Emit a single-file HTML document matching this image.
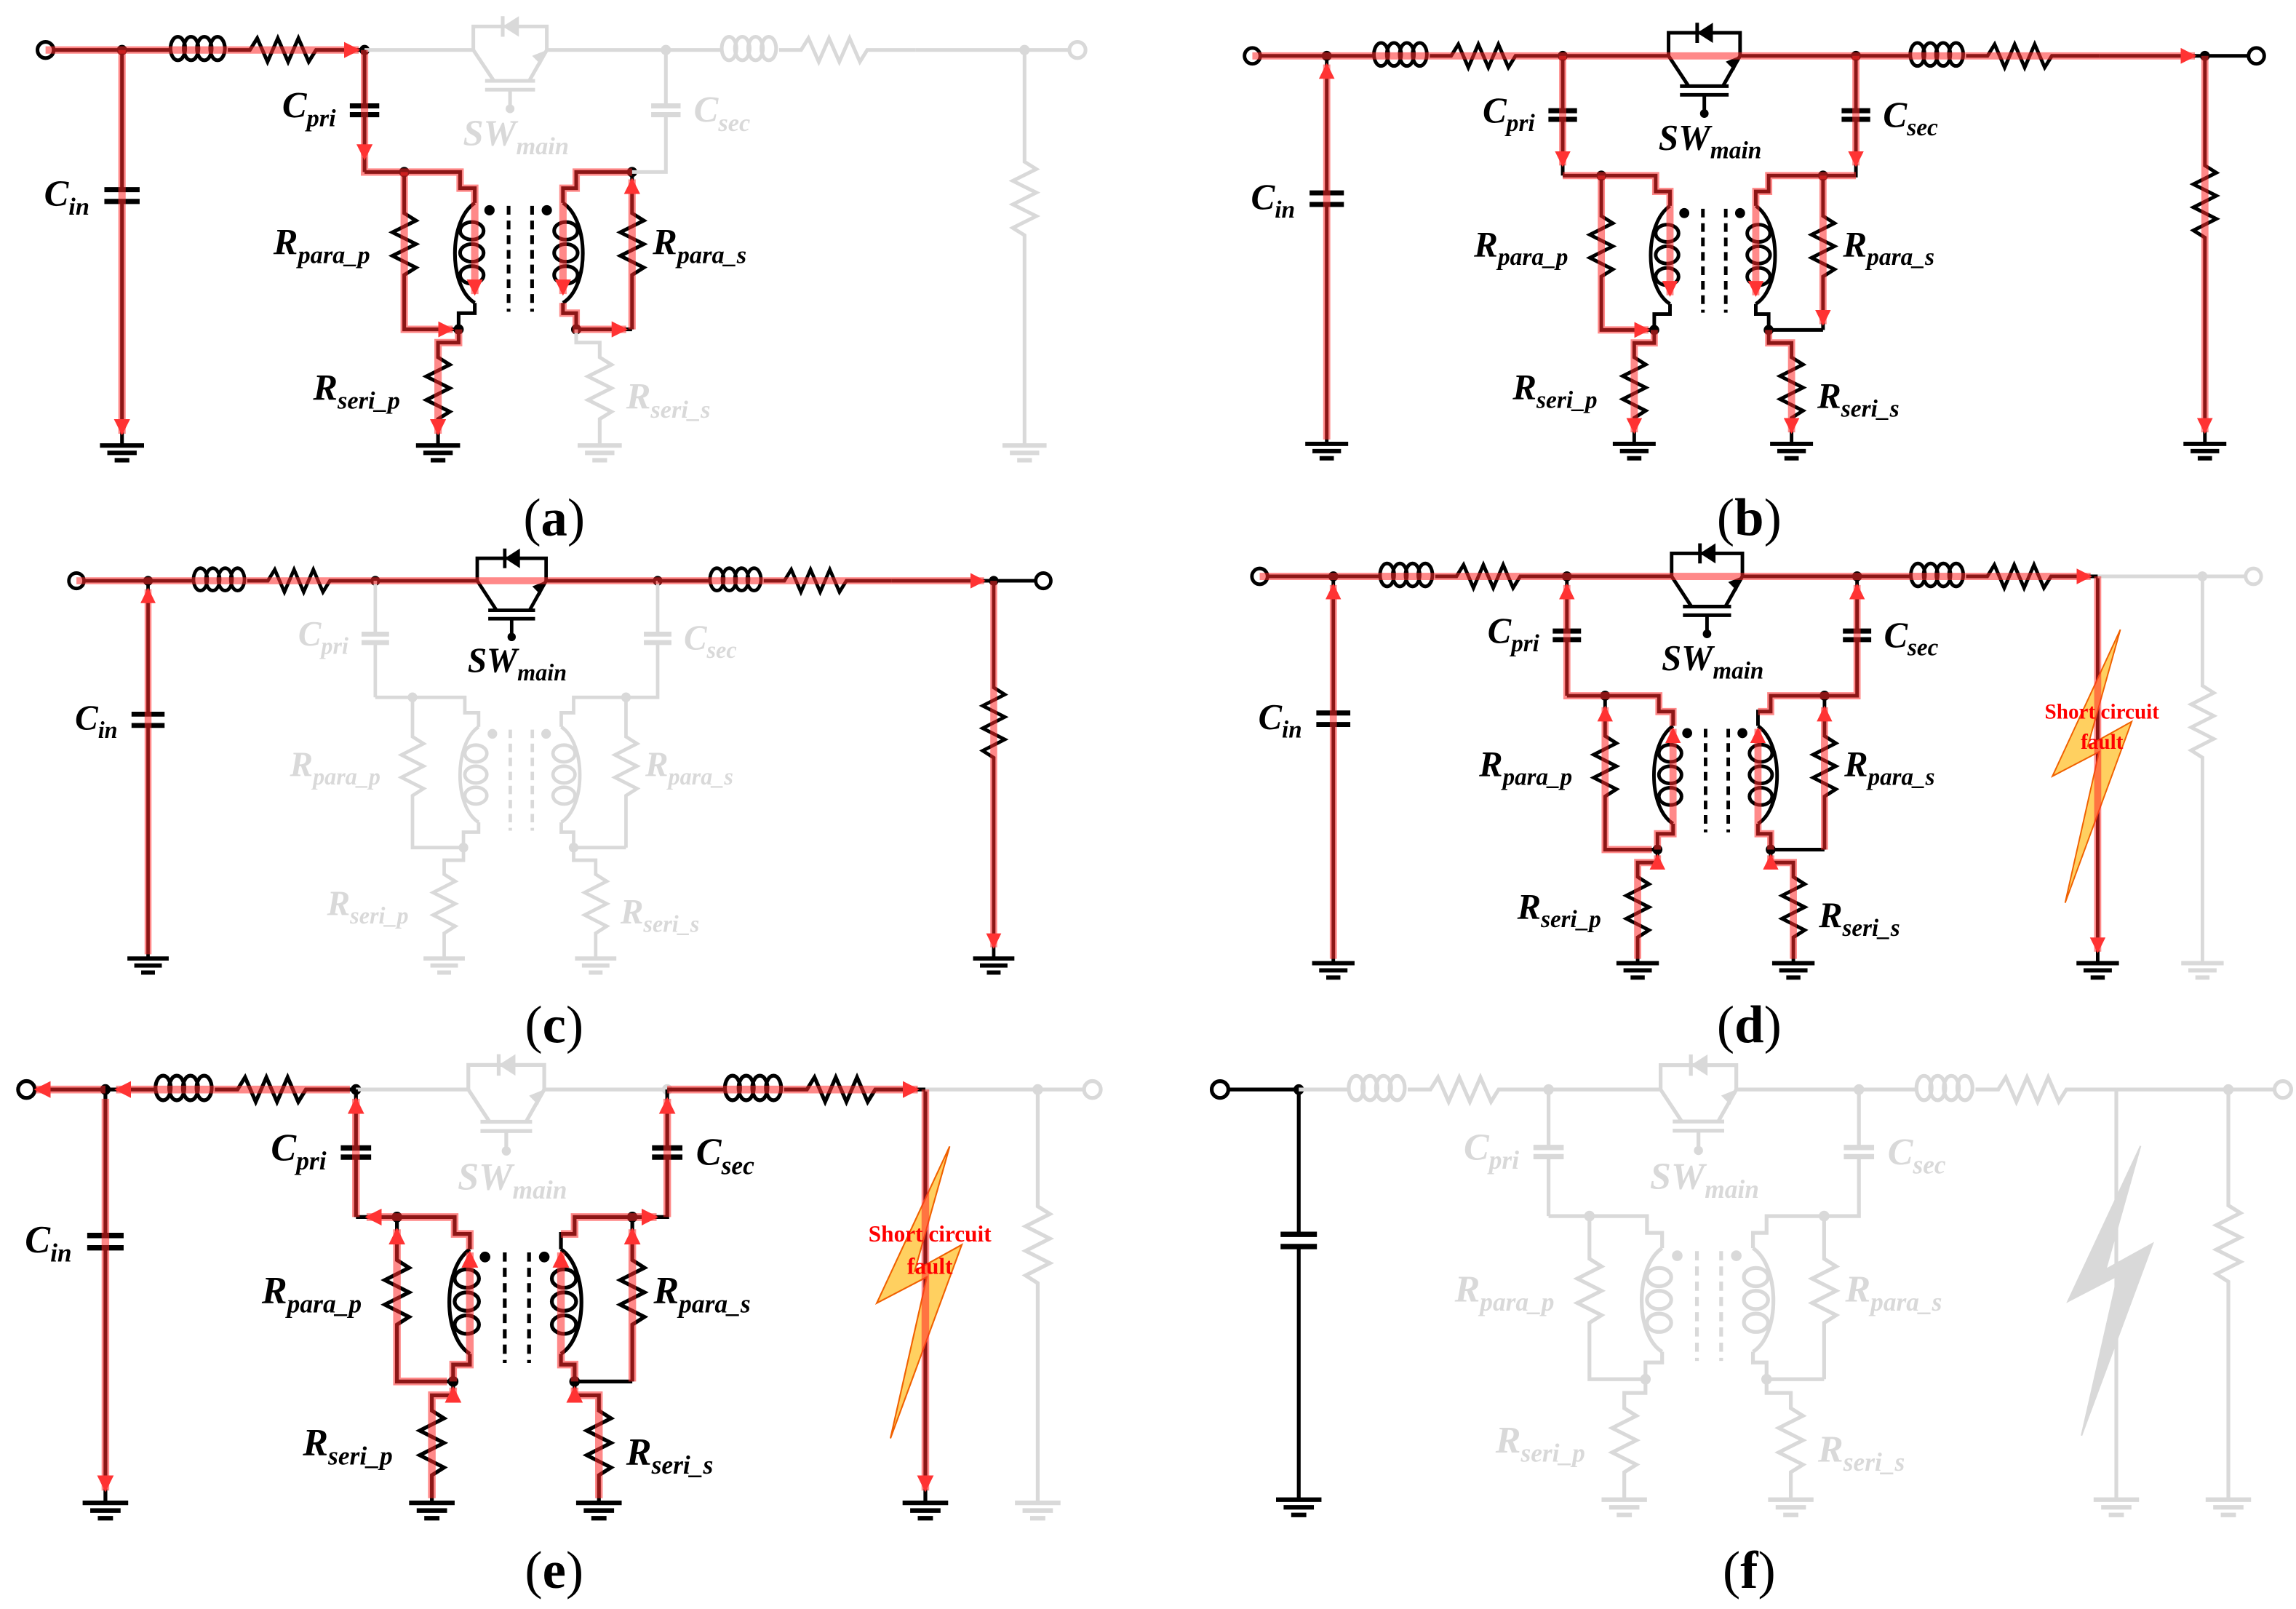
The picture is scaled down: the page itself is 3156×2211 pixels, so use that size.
<!DOCTYPE html>
<html><head><meta charset="utf-8"><style>
html,body{margin:0;padding:0;background:#fff}
svg{display:block}
.lb{font-family:"Liberation Serif",serif;font-weight:bold;font-style:italic;font-size:25px}
.sb{font-size:17px}
.h{fill:none;stroke:rgba(255,40,40,.55);stroke-width:5;marker-end:url(#ar)}
.cap{font-family:"Liberation Serif",serif;font-size:36px;fill:#000;text-anchor:middle}
.ft{font-family:"Liberation Serif",serif;font-weight:bold;font-size:15px;fill:#f00;text-anchor:middle}
</style></head><body>
<svg width="3156" height="2211" viewBox="0 0 1562 1094.3" preserveAspectRatio="none" xmlns="http://www.w3.org/2000/svg">
<defs>
<marker id="ar" viewBox="0 0 10 10" refX="9" refY="5" markerWidth="11" markerHeight="11" markerUnits="userSpaceOnUse" orient="auto"><path d="M0,0L10,5L0,10z" fill="#f33"/></marker>
<g id="T" fill="none" stroke-width="2.5">
 <g style="stroke:var(--in)"><path d="M37,34H83"/><circle cx="31" cy="34" r="5.5" fill="#fff"/></g>
 <circle cx="83" cy="34" r="3.5" style="fill:var(--in)" stroke="none"/>
 <g style="stroke:var(--cin)"><path d="M83,34V129M83,137V303"/><path d="M71,129H95M71,137H95" stroke-width="3.5"/><path d="M68,303H98M73,308H93M78,313H88" stroke-width="3"/></g>
 <g style="stroke:var(--l1)"><path d="M83,34H115M155,34H170L175,26 182,42 189,26 196,42 203,26 210,42 215,34H248"/><ellipse cx="121" cy="33" rx="5" ry="8"/><ellipse cx="130" cy="33" rx="5" ry="8"/><ellipse cx="139" cy="33" rx="5" ry="8"/><ellipse cx="148" cy="33" rx="5" ry="8"/></g>
 <circle cx="248" cy="34" r="3.5" style="fill:var(--l1)" stroke="none"/>
 <g style="stroke:var(--sw)"><path d="M248,34H322M322,34V18H372V34M372,34H453M322,34L336,55M372,34L360,55M330,55H364M330,61H364M347,61V74M342,11V25"/></g>
 <g style="fill:var(--sw)" stroke="none"><polygon points="342,18 353,11 353,25"/><polygon points="372,34 362,38 368,44"/><circle cx="347" cy="74" r="3"/><circle cx="453" cy="34" r="3.5"/></g>
 <g style="stroke:var(--cpri)"><path d="M248,34V72M248,78V117"/><path d="M238,72H258M238,78H258" stroke-width="3.5"/></g>
 <g style="stroke:var(--pri)"><path d="M248,117H313V128H323V138M323,206V213H312V224M275,117V145L283,150 267,158 283,166 267,174 283,182 275,187V224H312M312,224V233H298V243L306,248 290,256 306,264 290,272 306,280 298,285V303"/><path d="M323,138C305,150 305,195 323,206"/><ellipse cx="321" cy="157" rx="8" ry="6"/><ellipse cx="321" cy="172" rx="8" ry="6"/><ellipse cx="321" cy="187" rx="8" ry="6"/><path d="M283,303H313M288,308H308M293,313H303" stroke-width="3"/></g>
 <g style="fill:var(--pri)" stroke="none"><circle cx="275" cy="117" r="3.5"/><circle cx="312" cy="224" r="3.5"/><circle cx="333" cy="143" r="3.5"/></g>
 <path d="M346,140V212M362,140V212" style="stroke:var(--core)" stroke-dasharray="6 4"/>
 <g style="stroke:var(--secp)"><path d="M430,117H392V128H383V138M383,206V213H392V224H430M430,117V145L438,150 422,158 438,166 422,174 438,182 430,187V224"/><path d="M383,138C401,150 401,195 383,206"/><ellipse cx="385" cy="157" rx="8" ry="6"/><ellipse cx="385" cy="172" rx="8" ry="6"/><ellipse cx="385" cy="187" rx="8" ry="6"/></g>
 <g style="fill:var(--secp)" stroke="none"><circle cx="430" cy="117" r="3.5"/><circle cx="392" cy="224" r="3.5"/><circle cx="372" cy="143" r="3.5"/></g>
 <g style="stroke:var(--secs)"><path d="M392,224V233H408V243L416,248 400,256 416,264 400,272 416,280 408,285V303"/><path d="M393,303H423M398,308H418M403,313H413" stroke-width="3"/></g>
 <g style="stroke:var(--csec)"><path d="M453,34V72M453,78V117H430"/><path d="M443,72H463M443,78H463" stroke-width="3.5"/></g>
 <g style="stroke:var(--l2)"><path d="M453,34H490M530,34H545L550,26 557,42 564,26 571,42 578,26 585,42 590,34H623"/><ellipse cx="496" cy="33" rx="5" ry="8"/><ellipse cx="505" cy="33" rx="5" ry="8"/><ellipse cx="514" cy="33" rx="5" ry="8"/><ellipse cx="523" cy="33" rx="5" ry="8"/></g>
 <g style="stroke:var(--flt)"><path d="M623,34V303"/><path d="M608,303H638M613,308H633M618,313H628" stroke-width="3"/></g>
 <polygon points="639,71 591,173 624,156 600,261 647,135 616,152" style="fill:var(--bf);stroke:var(--bs)" stroke-width="1"/>
 <path d="M623,34H697" style="stroke:var(--l2b)"/>
 <circle cx="697" cy="34" r="3.5" style="fill:var(--l2b)" stroke="none"/>
 <g style="stroke:var(--rl)"><path d="M697,34V110L705,115 689,123 705,131 689,139 705,147 689,155 697,160V303"/><path d="M682,303H712M687,308H707M692,313H702" stroke-width="3"/></g>
 <g style="stroke:var(--out)"><path d="M697,34H727"/><circle cx="733" cy="34" r="5.5" fill="#fff"/></g>
</g>
</defs>

<!-- (a) -->
<g transform="translate(31,34) scale(1,1) translate(-31,-34)" style="--in:#000;--cin:#000;--l1:#000;--sw:#d9d9d9;--cpri:#000;--pri:#000;--core:#000;--secp:#000;--secs:#d9d9d9;--csec:#d9d9d9;--l2:#d9d9d9;--l2b:#d9d9d9;--rl:#d9d9d9;--out:#d9d9d9;--flt:none;--bf:none;--bs:none">
<use href="#T"/>
<path class="h" d="M31,34H244"/><path class="h" d="M83,34V295"/><path class="h" d="M248,34V108"/><path class="h" d="M248,108V117H313V128H323V200"/><path class="h" d="M275,117V224H308"/><path class="h" d="M312,224V233H298V295"/><path class="h" d="M430,117H392V128H383V200"/><path class="h" d="M383,206V213H392V224H426"/><path class="h" d="M430,224V122"/>
<g class="lb">
<text x="30" y="140" style="fill:var(--cin)">C<tspan class="sb" dy="6">in</tspan></text>
<text x="192" y="80" style="fill:var(--cpri)">C<tspan class="sb" dy="6">pri</tspan></text>
<text x="472" y="83" style="fill:var(--csec)">C<tspan class="sb" dy="6">sec</tspan></text>
<text x="315" y="99" style="fill:var(--sw)">SW<tspan class="sb" dy="6">main</tspan></text>
<text x="186" y="173" style="fill:var(--pri)">R<tspan class="sb" dy="6">para_p</tspan></text>
<text x="213" y="272" style="fill:var(--pri)">R<tspan class="sb" dy="6">seri_p</tspan></text>
<text x="444" y="173" style="fill:var(--secp)">R<tspan class="sb" dy="6">para_s</tspan></text>
<text x="426" y="278" style="fill:var(--secs)">R<tspan class="sb" dy="6">seri_s</tspan></text>
</g></g>

<!-- (b) -->
<g transform="translate(852,38) scale(0.973,0.981) translate(-31,-34)" style="--in:#000;--cin:#000;--l1:#000;--sw:#000;--cpri:#000;--pri:#000;--core:#000;--secp:#000;--secs:#000;--csec:#000;--l2:#000;--l2b:#000;--rl:#000;--out:#000;--flt:none;--bf:none;--bs:none">
<use href="#T"/>
<path class="h" d="M31,34H690"/><path class="h" d="M83,300V40"/><path class="h" d="M697,34V295"/><path class="h" d="M248,34V110"/><path class="h" d="M248,117H313V128H323V200"/><path class="h" d="M275,117V224H308"/><path class="h" d="M312,224V233H298V295"/><path class="h" d="M453,34V110"/><path class="h" d="M453,117H392V128H383V200"/><path class="h" d="M430,117V220"/><path class="h" d="M392,224V233H408V295"/>
<g class="lb">
<text x="30" y="140" style="fill:var(--cin)">C<tspan class="sb" dy="6">in</tspan></text>
<text x="192" y="80" style="fill:var(--cpri)">C<tspan class="sb" dy="6">pri</tspan></text>
<text x="472" y="83" style="fill:var(--csec)">C<tspan class="sb" dy="6">sec</tspan></text>
<text x="315" y="99" style="fill:var(--sw)">SW<tspan class="sb" dy="6">main</tspan></text>
<text x="186" y="173" style="fill:var(--pri)">R<tspan class="sb" dy="6">para_p</tspan></text>
<text x="213" y="272" style="fill:var(--pri)">R<tspan class="sb" dy="6">seri_p</tspan></text>
<text x="444" y="173" style="fill:var(--secp)">R<tspan class="sb" dy="6">para_s</tspan></text>
<text x="426" y="278" style="fill:var(--secs)">R<tspan class="sb" dy="6">seri_s</tspan></text>
</g></g>

<!-- (c) -->
<g transform="translate(52,395) scale(0.937,0.955) translate(-31,-34)" style="--in:#000;--cin:#000;--l1:#000;--sw:#000;--cpri:#d9d9d9;--pri:#d9d9d9;--core:#d9d9d9;--secp:#d9d9d9;--secs:#d9d9d9;--csec:#d9d9d9;--l2:#000;--l2b:#000;--rl:#000;--out:#000;--flt:none;--bf:none;--bs:none">
<use href="#T"/>
<path class="h" d="M31,34H690"/><path class="h" d="M83,300V40"/><path class="h" d="M697,34V295"/>
<g class="lb">
<text x="30" y="140" style="fill:var(--cin)">C<tspan class="sb" dy="6">in</tspan></text>
<text x="192" y="80" style="fill:var(--cpri)">C<tspan class="sb" dy="6">pri</tspan></text>
<text x="472" y="83" style="fill:var(--csec)">C<tspan class="sb" dy="6">sec</tspan></text>
<text x="315" y="99" style="fill:var(--sw)">SW<tspan class="sb" dy="6">main</tspan></text>
<text x="186" y="173" style="fill:var(--pri)">R<tspan class="sb" dy="6">para_p</tspan></text>
<text x="213" y="272" style="fill:var(--pri)">R<tspan class="sb" dy="6">seri_p</tspan></text>
<text x="444" y="173" style="fill:var(--secp)">R<tspan class="sb" dy="6">para_s</tspan></text>
<text x="426" y="278" style="fill:var(--secs)">R<tspan class="sb" dy="6">seri_s</tspan></text>
</g></g>

<!-- (d) -->
<g transform="translate(857,392) scale(0.963,0.978) translate(-31,-34)" style="--in:#000;--cin:#000;--l1:#000;--sw:#000;--cpri:#000;--pri:#000;--core:#000;--secp:#000;--secs:#000;--csec:#000;--l2:#000;--l2b:#d9d9d9;--rl:#d9d9d9;--out:#d9d9d9;--flt:#000;--bf:#ffd060;--bs:#f06000">
<use href="#T"/>
<path class="h" d="M31,34H618"/><path class="h" d="M83,300V40"/><path class="h" d="M623,34V295"/><path class="h" d="M298,300V233H312V228"/><path class="h" d="M308,224H275V125"/><path class="h" d="M312,224V213H323V140"/><path class="h" d="M323,138V128H313V117H248V40"/><path class="h" d="M408,300V233H392V228"/><path class="h" d="M392,224V213H383V140"/><path class="h" d="M430,224V125"/><path class="h" d="M383,128H392V117H453V40"/>
<text class="ft" x="626" y="133">Short circuit</text><text class="ft" x="626" y="154">fault</text>
<g class="lb">
<text x="30" y="140" style="fill:var(--cin)">C<tspan class="sb" dy="6">in</tspan></text>
<text x="192" y="80" style="fill:var(--cpri)">C<tspan class="sb" dy="6">pri</tspan></text>
<text x="472" y="83" style="fill:var(--csec)">C<tspan class="sb" dy="6">sec</tspan></text>
<text x="315" y="99" style="fill:var(--sw)">SW<tspan class="sb" dy="6">main</tspan></text>
<text x="186" y="173" style="fill:var(--pri)">R<tspan class="sb" dy="6">para_p</tspan></text>
<text x="213" y="272" style="fill:var(--pri)">R<tspan class="sb" dy="6">seri_p</tspan></text>
<text x="444" y="173" style="fill:var(--secp)">R<tspan class="sb" dy="6">para_s</tspan></text>
<text x="426" y="278" style="fill:var(--secs)">R<tspan class="sb" dy="6">seri_s</tspan></text>
</g></g>

<!-- (e) -->
<g transform="translate(18,741) scale(1.033,1.045) translate(-31,-34)" style="--in:#000;--cin:#000;--l1:#000;--sw:#d9d9d9;--cpri:#000;--pri:#000;--core:#000;--secp:#000;--secs:#000;--csec:#000;--l2:#000;--l2b:#d9d9d9;--rl:#d9d9d9;--out:#d9d9d9;--flt:#000;--bf:#ffd060;--bs:#f06000">
<use href="#T"/>
<path class="h" d="M83,34H37"/><path class="h" d="M244,34H90"/><path class="h" d="M83,40V295"/><path class="h" d="M248,117V40"/><path class="h" d="M298,300V233H312V228"/><path class="h" d="M308,224H275V125"/><path class="h" d="M312,224V213H323V140"/><path class="h" d="M323,138V128H313V117H255"/><path class="h" d="M453,117V40"/><path class="h" d="M453,34H618"/><path class="h" d="M623,34V295"/><path class="h" d="M408,300V233H392V228"/><path class="h" d="M392,224V213H383V140"/><path class="h" d="M430,224V125"/><path class="h" d="M383,128H392V117H446"/>
<text class="ft" x="626" y="133">Short circuit</text><text class="ft" x="626" y="154">fault</text>
<g class="lb">
<text x="30" y="140" style="fill:var(--cin)">C<tspan class="sb" dy="6">in</tspan></text>
<text x="192" y="80" style="fill:var(--cpri)">C<tspan class="sb" dy="6">pri</tspan></text>
<text x="472" y="83" style="fill:var(--csec)">C<tspan class="sb" dy="6">sec</tspan></text>
<text x="315" y="99" style="fill:var(--sw)">SW<tspan class="sb" dy="6">main</tspan></text>
<text x="186" y="173" style="fill:var(--pri)">R<tspan class="sb" dy="6">para_p</tspan></text>
<text x="213" y="272" style="fill:var(--pri)">R<tspan class="sb" dy="6">seri_p</tspan></text>
<text x="444" y="173" style="fill:var(--secp)">R<tspan class="sb" dy="6">para_s</tspan></text>
<text x="426" y="278" style="fill:var(--secs)">R<tspan class="sb" dy="6">seri_s</tspan></text>
</g></g>

<!-- (f) -->
<g transform="translate(830,741) scale(1.03,1.037) translate(-31,-34)" style="--in:#000;--cin:#000;--l1:#d9d9d9;--sw:#d9d9d9;--cpri:#d9d9d9;--pri:#d9d9d9;--core:#d9d9d9;--secp:#d9d9d9;--secs:#d9d9d9;--csec:#d9d9d9;--l2:#d9d9d9;--l2b:#d9d9d9;--rl:#d9d9d9;--out:#d9d9d9;--flt:#d9d9d9;--bf:#d9d9d9;--bs:#d9d9d9">
<use href="#T"/>
<g class="lb">
<text x="192" y="80" style="fill:var(--cpri)">C<tspan class="sb" dy="6">pri</tspan></text>
<text x="472" y="83" style="fill:var(--csec)">C<tspan class="sb" dy="6">sec</tspan></text>
<text x="315" y="99" style="fill:var(--sw)">SW<tspan class="sb" dy="6">main</tspan></text>
<text x="186" y="173" style="fill:var(--pri)">R<tspan class="sb" dy="6">para_p</tspan></text>
<text x="213" y="272" style="fill:var(--pri)">R<tspan class="sb" dy="6">seri_p</tspan></text>
<text x="444" y="173" style="fill:var(--secp)">R<tspan class="sb" dy="6">para_s</tspan></text>
<text x="426" y="278" style="fill:var(--secs)">R<tspan class="sb" dy="6">seri_s</tspan></text>
</g></g>

<text class="cap" x="377" y="364">(<tspan font-weight="bold">a</tspan>)</text>
<text class="cap" x="1190" y="364">(<tspan font-weight="bold">b</tspan>)</text>
<text class="cap" x="377" y="709">(<tspan font-weight="bold">c</tspan>)</text>
<text class="cap" x="1190" y="709">(<tspan font-weight="bold">d</tspan>)</text>
<text class="cap" x="377" y="1080">(<tspan font-weight="bold">e</tspan>)</text>
<text class="cap" x="1190" y="1080">(<tspan font-weight="bold">f</tspan>)</text>
</svg>
</body></html>
